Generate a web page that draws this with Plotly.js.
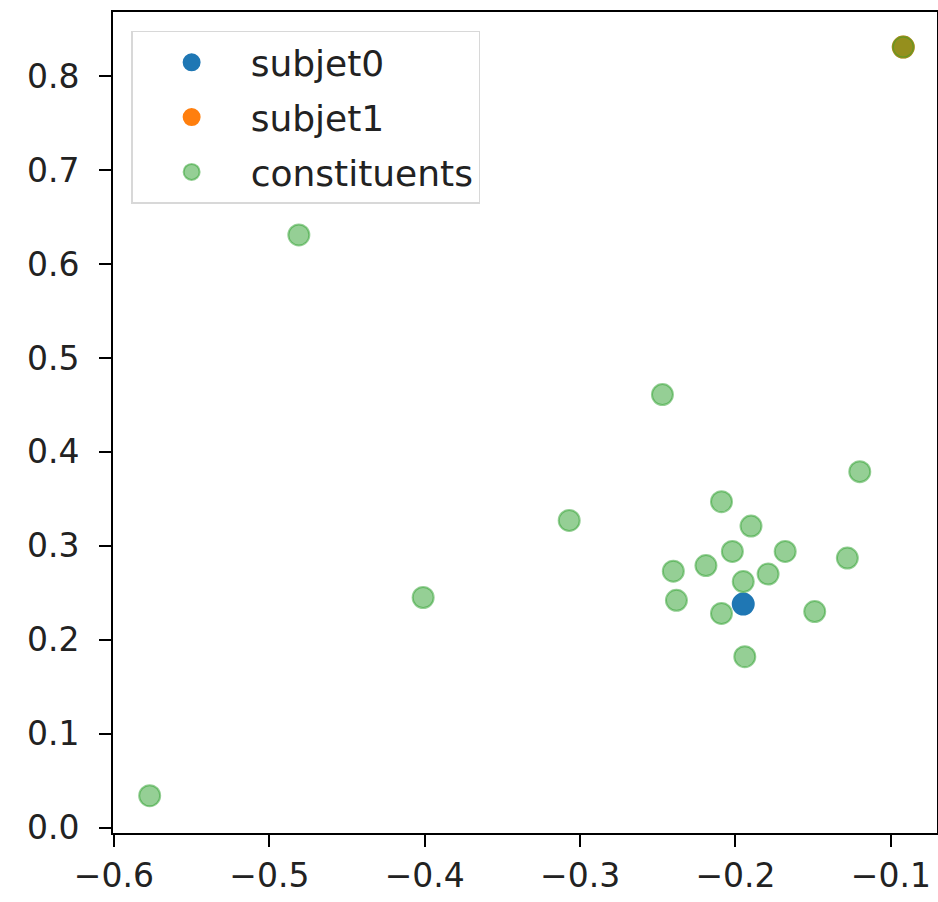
<!DOCTYPE html>
<html>
<head>
<meta charset="utf-8">
<script src="https://cdn.plot.ly/plotly-3.0.1.min.js"></script>
<style>html,body{margin:0;padding:0;background:#fff;}#chart{width:938px;height:902px;}</style>
</head>
<body>
<div id="chart"></div>
<script>
// subjet0
const subjet0X = [-0.195];
const subjet0Y = [0.238];
// subjet1
const subjet1X = [-0.092];
const subjet1Y = [0.831];
// constituents
const constX = [-0.092, -0.481, -0.247, -0.120, -0.307, -0.209, -0.190, -0.202, -0.168, -0.128,
                -0.219, -0.240, -0.179, -0.195, -0.238, -0.209, -0.149, -0.194, -0.401, -0.577];
const constY = [0.831, 0.631, 0.461, 0.379, 0.327, 0.347, 0.321, 0.294, 0.294, 0.287,
                0.279, 0.273, 0.270, 0.262, 0.242, 0.228, 0.230, 0.182, 0.245, 0.034];
const names = ["subjet0", "subjet1", "constituents"];
const xTicks = [-0.6, -0.5, -0.4, -0.3, -0.2, -0.1];
const yTicks = [0.0, 0.1, 0.2, 0.3, 0.4, 0.5, 0.6, 0.7, 0.8];

const font = {family: "DejaVu Sans", size: 33, color: "#222"};
const mk = (c) => ({size: 21, color: c, line: {color: c, width: 2}});

const traces = [
  {x: subjet0X, y: subjet0Y, name: names[0], type: "scatter", mode: "markers", legendgroup: "a",
   marker: mk("#1f77b4")},
  {x: subjet1X, y: subjet1Y, name: names[1], type: "scatter", mode: "markers", legendgroup: "b",
   marker: mk("#ff7f0e")},
  {x: constX, y: constY, name: names[2], type: "scatter", mode: "markers", legendgroup: "c",
   marker: mk("rgba(44,160,44,0.5)")}
];

const axisCommon = {
  showline: true, mirror: true, linecolor: "#000", linewidth: 2,
  ticks: "outside", ticklen: 12, tickwidth: 2, tickcolor: "#000",
  showgrid: false, zeroline: false, tickfont: font
};

const layout = {
  width: 938, height: 902,
  margin: {l: 113, r: 1, t: 12, b: 69},
  paper_bgcolor: "#fff", plot_bgcolor: "#fff",
  font: font,
  showlegend: true,
  legend: {
    x: 0.022, y: 0.977, xanchor: "left", yanchor: "top",
    bgcolor: "rgba(255,255,255,0.8)", bordercolor: "#d8d8d8", borderwidth: 1.5,
    font: {family: "DejaVu Sans", size: 36, color: "#222"},
    traceorder: "grouped", tracegroupgap: 5, itemwidth: 108
  },
  xaxis: Object.assign({}, axisCommon, {range: [-0.6006, -0.0703], tickvals: xTicks, tickformat: ".1f"}),
  yaxis: Object.assign({}, axisCommon, {range: [-0.0057, 0.8683], tickvals: yTicks, tickformat: ".1f", ticklabelstandoff: 13})
};

Plotly.newPlot("chart", traces, layout, {displayModeBar: false, staticPlot: true});
</script>
</body>
</html>
